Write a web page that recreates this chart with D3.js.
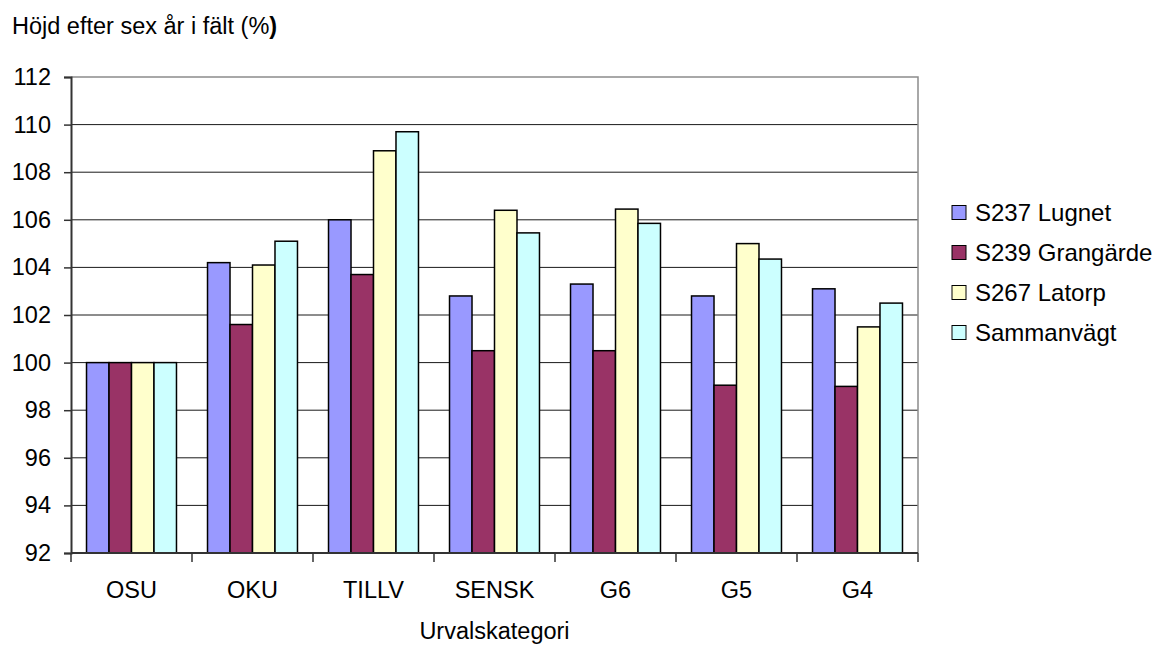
<!DOCTYPE html>
<html>
<head>
<meta charset="utf-8">
<script src="https://cdn.jsdelivr.net/npm/d3@7"></script>
<style>
  html, body { margin: 0; padding: 0; background: #fff; }
  svg { display: block; font-family: "Liberation Sans", Arial, sans-serif; }
</style>
</head>
<body>
<svg id="chart" width="1157" height="646"></svg>
<script>
// Height after six years in the field, relative to OSU (%)
const categories = ["OSU", "OKU", "TILLV", "SENSK", "G6", "G5", "G4"];
const seriesNames = ["S237 Lugnet", "S239 Grangärde", "S267 Latorp", "Sammanvägt"];
const lugnet     = [100, 104.2, 106.0, 102.8, 103.3, 102.8, 103.1];
const grangarde  = [100, 101.6, 103.7, 100.5, 100.5, 99.05, 99.0];
const latorp     = [100, 104.1, 108.9, 106.4, 106.45, 105.0, 101.5];
const sammanvagt = [100, 105.1, 109.7, 105.45, 105.85, 104.35, 102.5];
const yTicks = [92, 94, 96, 98, 100, 102, 104, 106, 108, 110, 112];
const colors = ["#9999FF", "#993366", "#FFFFCC", "#CCFFFF"];

const seriesValues = [lugnet, grangarde, latorp, sammanvagt];

const svg = d3.select("#chart");
const plot = { left: 71, right: 918, top: 77, bottom: 553 };
const fontSize = 23.5;
const legendFontSize = 24;

const x0 = d3.scaleBand().domain(categories).range([plot.left, plot.right]).padding(0);
const x1 = d3.scaleBand().domain(seriesNames).range([0, x0.bandwidth()])
  .paddingInner(0).paddingOuter(0.69);
const y = d3.scaleLinear().domain([92, 112]).range([plot.bottom, plot.top]);

// horizontal gridlines
svg.append("g")
  .selectAll("line")
  .data(yTicks.filter(t => t > 92 && t < 112))
  .join("line")
  .attr("x1", plot.left).attr("x2", plot.right)
  .attr("y1", d => y(d)).attr("y2", d => y(d))
  .attr("stroke", "#1a1a1a").attr("stroke-width", 1);

// plot frame: top and right edges in grey
svg.append("path")
  .attr("d", `M${plot.left},${y(112)}H${plot.right}V${plot.bottom}`)
  .attr("fill", "none").attr("stroke", "#8c8c8c").attr("stroke-width", 1.5);

// bars
const groups = svg.append("g")
  .selectAll("g")
  .data(categories)
  .join("g")
  .attr("transform", d => `translate(${x0(d)},0)`);

groups.selectAll("rect")
  .data((c, i) => seriesNames.map((s, k) => ({ s, k, v: seriesValues[k][i] })))
  .join("rect")
  .attr("x", d => x1(d.s))
  .attr("width", x1.bandwidth())
  .attr("y", d => y(d.v))
  .attr("height", d => y(92) - y(d.v))
  .attr("fill", d => colors[d.k])
  .attr("stroke", "#000")
  .attr("stroke-width", 1.5);

// y axis
const yAxis = d3.axisLeft(y).tickValues(yTicks).tickSize(7).tickPadding(13)
  .tickFormat(d3.format("d"));
const gy = svg.append("g").attr("transform", `translate(${plot.left},0)`).call(yAxis);
gy.select(".domain").attr("stroke", "#333").attr("stroke-width", 2);
gy.selectAll(".tick line").attr("stroke", "#333").attr("stroke-width", 1.5);
gy.selectAll(".tick text").attr("font-size", fontSize).attr("fill", "#000")
  .attr("font-family", "Liberation Sans, Arial, sans-serif");

// x axis: ticks sit between categories
const xAxisG = svg.append("g");
xAxisG.append("line")
  .attr("x1", plot.left).attr("x2", plot.right)
  .attr("y1", plot.bottom).attr("y2", plot.bottom)
  .attr("stroke", "#333").attr("stroke-width", 2);
const boundaries = categories.map(c => x0(c)).concat([x0(categories[categories.length - 1]) + x0.bandwidth()]);
xAxisG.selectAll("line.tick")
  .data(boundaries)
  .join("line")
  .attr("class", "tick")
  .attr("x1", d => d).attr("x2", d => d)
  .attr("y1", plot.bottom).attr("y2", plot.bottom + 9)
  .attr("stroke", "#333").attr("stroke-width", 1.5);
xAxisG.selectAll("text")
  .data(categories)
  .join("text")
  .attr("x", d => x0(d) + x0.bandwidth() / 2)
  .attr("y", 598)
  .attr("text-anchor", "middle")
  .attr("font-size", fontSize)
  .text(d => d);

// axis titles
const title = svg.append("text")
  .attr("x", 12).attr("y", 34)
  .attr("font-size", fontSize);
title.append("tspan").text("Höjd efter sex år i fält (%");
title.append("tspan").attr("font-weight", "bold").text(")");

svg.append("text")
  .attr("x", (plot.left + plot.right) / 2).attr("y", 639)
  .attr("text-anchor", "middle")
  .attr("font-size", fontSize)
  .text("Urvalskategori");

// legend
const legend = svg.append("g").attr("transform", "translate(952,0)");
const legendRows = legend.selectAll("g")
  .data(seriesNames)
  .join("g")
  .attr("transform", (d, i) => `translate(0,${212.5 + i * 40})`);
legendRows.append("rect")
  .attr("x", 0).attr("y", -7).attr("width", 14).attr("height", 14)
  .attr("fill", (d, i) => colors[i])
  .attr("stroke", "#000").attr("stroke-width", 1);
legendRows.append("text")
  .attr("x", 23).attr("y", 0).attr("dy", "0.35em")
  .attr("font-size", legendFontSize)
  .text(d => d);
</script>
</body>
</html>
